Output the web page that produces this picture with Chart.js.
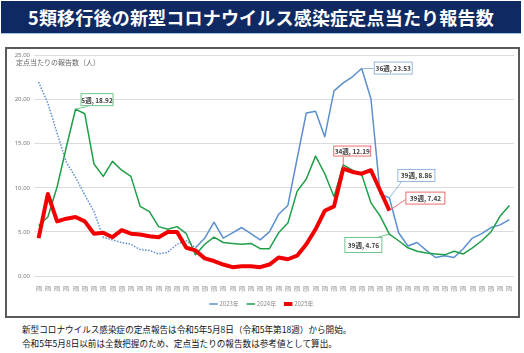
<!DOCTYPE html>
<html>
<head>
<meta charset="utf-8">
<script src="https://cdn.jsdelivr.net/npm/chart.js@4.4.1/dist/chart.umd.min.js"></script>
<style>
  body { margin: 0; width: 524px; height: 353px; background: #fff; position: relative; overflow: hidden;
         font-family: "Noto Sans CJK JP", "Noto Sans", sans-serif; }
  #title { position: absolute; left: 1px; top: 1px; width: 520px; height: 32px; background: #0f2a62;
           color: #fff; font-weight: bold; font-size: 18px; line-height: 32px; text-align: center;
           border-bottom: 1px solid #9fc4e8; letter-spacing: 0.2px; }
  #frame { position: absolute; left: 5px; top: 47px; width: 511px; height: 267px; border: 2px solid #5a5a5a; }
  #box { position: absolute; left: 6px; top: 48px; width: 512px; height: 271px; }
  #ytitle { position: absolute; left: 16px; top: 57px; font-size: 7px; color: #666; }
  .note { position: absolute; left: 22px; font-size: 8.6px; color: #111; white-space: nowrap; }
</style>
</head>
<body>
<div id="title">5類移行後の新型コロナウイルス感染症定点当たり報告数</div>
<div id="frame"></div>
<div id="box"><canvas id="c"></canvas></div>
<div id="ytitle">定点当たりの報告数（人）</div>
<div class="note" style="top:323px">新型コロナウイルス感染症の定点報告は令和5年5月8日（令和5年第18週）から開始。</div>
<div class="note" style="top:337px">令和5年5月8日以前は全数把握のため、定点当たりの報告数は参考値として算出。</div>
<script>
// weeks 1..52
const weeks = [];
for (let i = 1; i <= 52; i++) weeks.push(i + '週');

const y2023 = [22.0, 19.6, 16.2, 12.9, 11.2, 9.2, 7.3, 4.4, 4.1, 3.8, 3.6, 3.0, 2.9, 2.5, 2.7, 3.6,
  4.0, 3.2, 4.3, 6.1, 4.3, 4.9, 5.5, 4.8, 4.1, 5.0, 7.0, 8.0, 13.3, 18.5, 18.7, 15.8,
  21.0, 21.9, 22.6, 23.53, 20.1, 9.3, 8.86, 4.9, 3.4, 3.8, 2.9, 2.1, 2.3, 2.1, 3.1, 4.3,
  4.8, 5.5, 5.8, 6.4];
const y2024 = [5.7, 6.7, 10.1, 14.6, 18.92, 18.4, 12.7, 11.3, 13.0, 12.0, 11.3, 7.9, 7.3, 5.6, 5.3, 5.6,
  4.8, 2.4, 3.6, 4.4, 3.8, 3.7, 3.6, 3.7, 3.1, 3.1, 4.9, 6.0, 9.6, 11.0, 13.6, 11.6,
  9.0, 12.6, 12.0, 11.5, 8.3, 6.8, 4.76, 4.0, 3.2, 2.8, 2.6, 2.5, 2.4, 2.8, 2.5, 3.2,
  4.0, 5.0, 6.8, 8.0];
const y2025 = [4.3, 9.3, 6.2, 6.5, 6.7, 6.2, 4.8, 4.9, 4.4, 5.2, 4.8, 4.7, 4.5, 4.4, 5.0, 5.0,
  3.2, 2.9, 2.0, 1.7, 1.3, 1.0, 1.1, 1.1, 1.0, 1.3, 2.1, 1.9, 2.3, 3.6, 5.3, 7.4,
  7.9, 12.19, 11.8, 11.6, 12.0, 9.7, 7.42];
const yTicks = [0, 5, 10, 15, 20, 25];

// callouts: dataset, week index, text, box offset from point
const notes = [
  { ds: 1, i: 4, text: '5週, 18.92', dx: 5, dy: -16, w: 33, h: 13, lx: 8, ly: 13 },
  { ds: 0, i: 35, text: '36週, 23.53', dx: 12, dy: -7, w: 39, h: 13, lx: 0, ly: 7 },
  { ds: 2, i: 33, text: '34週, 12.19', dx: -10, dy: -23, w: 38, h: 11, lx: 10, ly: 11 },
  { ds: 0, i: 38, text: '39週, 8.86', dx: 8, dy: -29, w: 38, h: 13, lx: 4, ly: 13 },
  { ds: 2, i: 38, text: '39週, 7.42', dx: 16, dy: -19, w: 40, h: 13, lx: 0, ly: 8 },
  { ds: 1, i: 38, text: '39週, 4.76', dx: -45, dy: 3, w: 38, h: 16, lx: 34, ly: 0 }
];
const noteColor = ['#7aa3d6', '#4fb56e', '#e84848'];

const calloutPlugin = {
  id: 'callouts',
  afterDatasetsDraw(chart) {
    const ctx = chart.ctx;
    ctx.save();
    notes.forEach(n => {
      const p = chart.getDatasetMeta(n.ds).data[n.i];
      const bx = p.x + n.dx, by = p.y + n.dy;
      ctx.strokeStyle = noteColor[n.ds];
      ctx.lineWidth = 0.8;
      ctx.beginPath();
      ctx.moveTo(p.x, p.y);
      ctx.lineTo(bx + n.lx, by + n.ly);
      ctx.stroke();
      ctx.fillStyle = '#fff';
      ctx.fillRect(bx, by, n.w, n.h);
      ctx.strokeRect(bx + 0.5, by + 0.5, n.w - 1, n.h - 1);
      ctx.fillStyle = '#404040';
      ctx.font = 'bold 6.5px "Noto Sans CJK JP"';
      ctx.textAlign = 'center';
      ctx.textBaseline = 'middle';
      ctx.fillText(n.text, bx + n.w / 2, by + n.h / 2 + 0.5);
    });
    ctx.restore();
  }
};

new Chart(document.getElementById('c'), {
  type: 'line',
  data: {
    labels: weeks,
    datasets: [{
      label: '2023年',
      data: y2023,
      borderColor: '#5b8fce',
      backgroundColor: '#5b8fce',
      borderWidth: 1.5,
      segment: { borderDash: c => c.p0DataIndex < 17 ? [1.5, 1.5] : undefined },
      order: 2
    }, {
      label: '2024年',
      data: y2024,
      borderColor: '#1f9e48',
      backgroundColor: '#1f9e48',
      borderWidth: 1.5,
      order: 1
    }, {
      label: '2025年',
      data: y2025,
      borderColor: '#f20000',
      backgroundColor: '#f20000',
      borderWidth: 4,
      order: 0
    }]
  },
  options: {
    responsive: true,
    maintainAspectRatio: false,
    animation: false,
    elements: { point: { radius: 0 }, line: { tension: 0, borderJoinStyle: 'round' } },
    layout: { padding: { top: 3, right: 0, bottom: 2, left: 0 } },
    scales: {
      x: {
        offset: true,
        grid: { display: false },
        border: { display: false },
        ticks: { autoSkip: false, maxRotation: 90, minRotation: 90, color: '#888',
                 font: { size: 5.5, family: '"Noto Sans CJK JP"' }, padding: 2 },
        afterFit: s => { s.height = 16; }
      },
      y: {
        min: 0, max: 25,
        afterBuildTicks: s => { s.ticks = yTicks.map(v => ({ value: v })); },
        grid: { color: '#dcdcdc', lineWidth: 1, drawTicks: false },
        border: { display: false },
        ticks: { color: '#777', font: { size: 6, family: '"Noto Sans"' }, padding: 4,
                 callback: v => v.toFixed(2) },
        afterFit: s => { s.width = 28; }
      }
    },
    plugins: {
      legend: {
        position: 'bottom',
        labels: {
          usePointStyle: true, pointStyle: 'line', boxWidth: 12, boxHeight: 6, padding: 9,
          color: '#888', font: { size: 6, family: '"Noto Sans CJK JP"' },
          sort: (a, b) => a.datasetIndex - b.datasetIndex
        }
      },
      tooltip: { enabled: false }
    }
  },
  plugins: [calloutPlugin]
});
</script>
</body>
</html>
